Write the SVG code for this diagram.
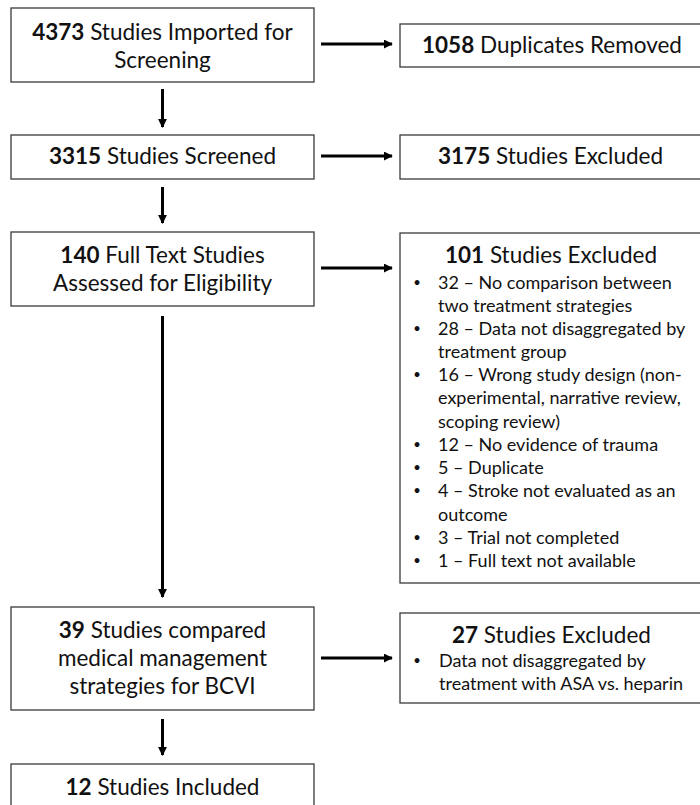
<svg xmlns="http://www.w3.org/2000/svg" width="700" height="805" viewBox="0 0 700 805">
<defs>
<style>
.box{fill:#fff;stroke:#3a3a3a;stroke-width:1.3}
.t{font-family:Lato,"Open Sans","Liberation Sans",sans-serif;font-size:22.5px;fill:#111}
.c{text-anchor:middle}
.s{font-size:18px}
.d{font-size:13px;text-anchor:middle}
.b{font-weight:bold}
.conn line{stroke:#000;stroke-width:3}
</style>
<marker id="ah" viewBox="0 0 10 10" refX="9" refY="5" markerWidth="3" markerHeight="3" orient="auto" markerUnits="strokeWidth">
<path d="M0,0 L10,5 L0,10 z" fill="#000"/>
</marker>
</defs>
<rect width="700" height="805" fill="#fff"/>

<g id="n1">
<rect class="box" x="11" y="8" width="303" height="74"/>
<text class="t c" x="162.5" y="40"><tspan class="b">4373</tspan> Studies Imported for</text>
<text class="t c" x="162.5" y="68">Screening</text>
</g>
<g id="n2">
<rect class="box" x="400" y="24" width="310" height="43"/>
<text class="t" x="422" y="53"><tspan class="b">1058</tspan> Duplicates Removed</text>
</g>
<g id="n3">
<rect class="box" x="11" y="135" width="303" height="44"/>
<text class="t c" x="162.5" y="164"><tspan class="b">3315</tspan> Studies Screened</text>
</g>
<g id="n4">
<rect class="box" x="400" y="135" width="310" height="44"/>
<text class="t" x="438" y="164"><tspan class="b">3175</tspan> Studies Excluded</text>
</g>
<g id="n5">
<rect class="box" x="11" y="232" width="303" height="74"/>
<text class="t c" x="162.5" y="263"><tspan class="b">140</tspan> Full Text Studies</text>
<text class="t c" x="162.5" y="291">Assessed for Eligibility</text>
</g>
<g id="n6">
<rect class="box" x="400" y="233" width="310" height="350"/>
<text class="t" x="445" y="263"><tspan class="b">101</tspan> Studies Excluded</text>
<g class="t s">
<text class="d" x="417" y="287">•</text><text x="438" y="289">32 – No comparison between</text>
<text x="438" y="312">two treatment strategies</text>
<text class="d" x="417" y="333">•</text><text x="438" y="335">28 – Data not disaggregated by</text>
<text x="438" y="358">treatment group</text>
<text class="d" x="417" y="379">•</text><text x="438" y="381">16 – Wrong study design (non-</text>
<text x="438" y="404">experimental, narrative review,</text>
<text x="438" y="428">scoping review)</text>
<text class="d" x="417" y="449">•</text><text x="438" y="451">12 – No evidence of trauma</text>
<text class="d" x="417" y="472">•</text><text x="438" y="474">5 – Duplicate</text>
<text class="d" x="417" y="495">•</text><text x="438" y="497">4 – Stroke not evaluated as an</text>
<text x="438" y="521">outcome</text>
<text class="d" x="417" y="542">•</text><text x="438" y="544">3 – Trial not completed</text>
<text class="d" x="417" y="565">•</text><text x="438" y="567">1 – Full text not available</text>
</g>
</g>
<g id="n7">
<rect class="box" x="11" y="607" width="303" height="103"/>
<text class="t c" x="162.5" y="638"><tspan class="b">39</tspan> Studies compared</text>
<text class="t c" x="162.5" y="666">medical management</text>
<text class="t c" x="162.5" y="694">strategies for BCVI</text>
</g>
<g id="n8">
<rect class="box" x="400" y="613" width="310" height="90"/>
<text class="t" x="452" y="643"><tspan class="b">27</tspan> Studies Excluded</text>
<g class="t s">
<text class="d" x="417" y="665">•</text><text x="439" y="667">Data not disaggregated by</text>
<text x="439" y="690">treatment with ASA vs. heparin</text>
</g>
</g>
<g id="n9">
<rect class="box" x="11" y="764" width="303" height="60"/>
<text class="t c" x="162.5" y="795"><tspan class="b">12</tspan> Studies Included</text>
</g>

<g class="conn">
<line x1="321" y1="44" x2="392" y2="44" marker-end="url(#ah)"/>
<line x1="321" y1="156" x2="392" y2="156" marker-end="url(#ah)"/>
<line x1="321" y1="268" x2="392" y2="268" marker-end="url(#ah)"/>
<line x1="321" y1="658" x2="392" y2="658" marker-end="url(#ah)"/>
<line x1="162.5" y1="89" x2="162.5" y2="127" marker-end="url(#ah)"/>
<line x1="162.5" y1="187" x2="162.5" y2="223" marker-end="url(#ah)"/>
<line x1="162.5" y1="316" x2="162.5" y2="597" marker-end="url(#ah)"/>
<line x1="162.5" y1="719" x2="162.5" y2="755" marker-end="url(#ah)"/>
</g>
</svg>
